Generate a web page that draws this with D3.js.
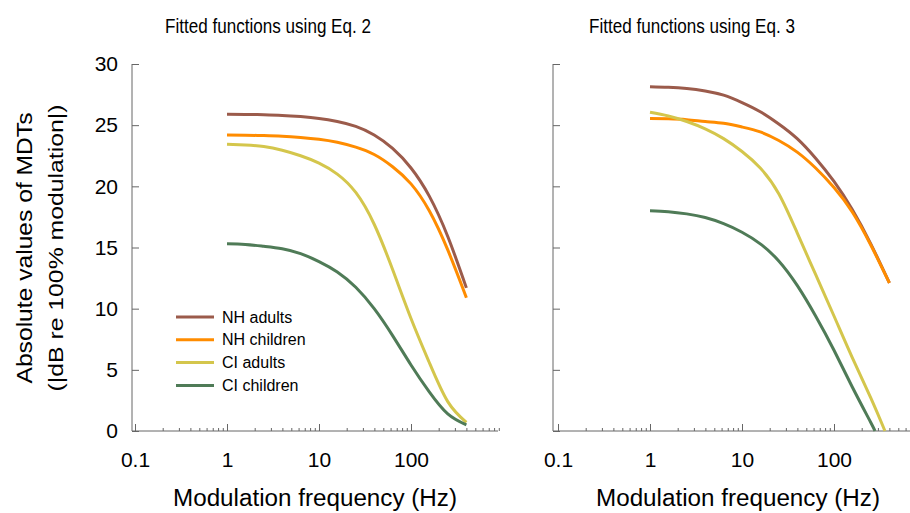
<!DOCTYPE html>
<html><head><meta charset="utf-8">
<script src="https://cdn.jsdelivr.net/npm/d3@7"></script>
<style>
body{margin:0;background:#fff;}
svg{display:block;font-family:"Liberation Sans",Arial,sans-serif;}
</style></head>
<body><svg id="c" width="910" height="513"></svg>
<script>
// ---- data ----
const seriesNames = ["NH adults","NH children","CI adults","CI children"];
const seriesColors = ["#9b5b4b","#ff8c00","#d4c64c","#4f7b57"];
const yTicks = [0,5,10,15,20,25,30];
const xTicks = [0.1,1,10,100];
const xTickLabels = ["0.1","1","10","100"];
const panelTitles = ["Fitted functions using Eq. 2","Fitted functions using Eq. 3"];

// Eq. 2 panel (frequency in Hz)
const freqEq2 = [1,1.58,2.51,3.98,6.31,10,15.8,25.1,39.8,63.1,100,158,251,400];
const nhAdultsEq2   = [25.9,25.88,25.85,25.8,25.7,25.55,25.3,24.9,24.2,23.1,21.5,19.2,15.9,11.7];
const nhChildrenEq2 = [24.2,24.18,24.15,24.1,24.0,23.85,23.6,23.2,22.6,21.6,20.2,18.0,14.8,10.9];
const ciAdultsEq2   = [23.45,23.38,23.25,22.95,22.5,21.9,21.0,19.5,16.9,13.2,9.2,5.6,2.4,0.7];
const ciChildrenEq2 = [15.3,15.25,15.1,14.9,14.5,13.85,13.0,11.75,10.0,7.8,5.4,3.2,1.4,0.5];

// Eq. 3 panel
const freqEq3NH  = [1,1.58,2.51,3.98,6.31,10,15.8,25.1,39.8,63.1,100,158,251,400];
const nhAdultsEq3   = [28.15,28.1,28.0,27.8,27.45,26.85,26.1,25.1,23.9,22.3,20.4,18.1,15.3,12.1];
const nhChildrenEq3 = [25.55,25.52,25.45,25.3,25.15,24.85,24.45,23.75,22.8,21.5,19.9,17.9,15.2,12.1];
const freqEq3CIa = [1,1.58,2.51,3.98,6.31,10,15.8,25.1,39.8,63.1,100,158,251,358];
const ciAdultsEq3   = [26.05,25.75,25.3,24.7,23.9,22.85,21.5,19.4,16.2,12.8,9.4,6.0,2.7,0];
const freqEq3CIc = [1,1.58,2.51,3.98,6.31,10,15.8,25.1,39.8,63.1,100,158,251,279];
const ciChildrenEq3 = [18.0,17.93,17.75,17.45,16.95,16.25,15.3,13.9,11.9,9.4,6.6,3.6,0.7,0];

// ---- drawing ----
const svg = d3.select("#c");
const axisColor = "#666";
const y = d3.scaleLinear().domain([0,30]).range([431,64]);

const panels = [
  {x0:132, xEnd:498, rangeStart:135, labels:true, title:panelTitles[0], titleX:268, xLabelX:315,
   series:[[freqEq2,nhAdultsEq2],[freqEq2,nhChildrenEq2],[freqEq2,ciAdultsEq2],[freqEq2,ciChildrenEq2]]},
  {x0:553, xEnd:910, rangeStart:558, labels:false, title:panelTitles[1], titleX:692, xLabelX:738,
   series:[[freqEq3NH,nhAdultsEq3],[freqEq3NH,nhChildrenEq3],[freqEq3CIa,ciAdultsEq3],[freqEq3CIc,ciChildrenEq3]]}
];

const minorTicks = [];
[0.1,1,10,100].forEach(d=>{for(let k=2;k<=9;k++) minorTicks.push(+(d*k).toPrecision(3));});

panels.forEach((p,pi)=>{
  const x = d3.scaleLog().domain([0.1,1000]).range([p.rangeStart,p.rangeStart+4*92]);
  const g = svg.append("g");

  // title
  g.append("text").attr("x",p.titleX).attr("y",33).attr("text-anchor","middle")
    .attr("font-size",20.5).attr("textLength",206).attr("lengthAdjust","spacingAndGlyphs")
    .attr("fill","#000").text(p.title);

  // y axis
  const ya = d3.axisLeft(y).tickValues(yTicks).tickSizeInner(-7).tickSizeOuter(0).tickPadding(14)
    .tickFormat(p.labels? d3.format("d") : "");
  const yg = g.append("g").attr("transform",`translate(${p.x0},0)`).call(ya);
  yg.select(".domain").remove();
  yg.selectAll(".tick line").attr("stroke",axisColor);
  yg.selectAll("text").attr("font-size",21).attr("fill","#000").attr("font-family","Liberation Sans, Arial, sans-serif");
  g.append("line").attr("x1",p.x0).attr("x2",p.x0).attr("y1",y(30)).attr("y2",y(0)).attr("stroke",axisColor);

  // x axis major
  const xa = d3.axisBottom(x).tickValues(xTicks).tickSizeInner(-7).tickSizeOuter(0).tickPadding(21)
    .tickFormat((d,i)=>xTickLabels[i]);
  const xg = g.append("g").attr("transform",`translate(0,${y(0)})`).call(xa);
  xg.select(".domain").remove();
  xg.selectAll(".tick line").attr("stroke",axisColor);
  xg.selectAll("text").attr("font-size",21).attr("fill","#000").attr("font-family","Liberation Sans, Arial, sans-serif");
  // minor
  const xm = d3.axisBottom(x).tickValues(minorTicks).tickSizeInner(-3).tickSizeOuter(0).tickFormat("");
  const xmg = g.append("g").attr("transform",`translate(0,${y(0)})`).call(xm);
  xmg.select(".domain").remove();
  xmg.selectAll(".tick line").attr("stroke",axisColor);
  g.append("line").attr("x1",p.x0).attr("x2",p.xEnd).attr("y1",y(0)).attr("y2",y(0)).attr("stroke",axisColor);

  // x label
  g.append("text").attr("x",p.xLabelX).attr("y",506).attr("text-anchor","middle")
    .attr("font-size",23).attr("textLength",284).attr("lengthAdjust","spacingAndGlyphs")
    .attr("fill","#000").text("Modulation frequency (Hz)");

  // curves
  const line = d3.line().x(d=>x(d[0])).y(d=>y(d[1])).curve(d3.curveNatural);
  p.series.forEach((s,i)=>{
    const pts = s[0].map((f,j)=>[f,s[1][j]]);
    g.append("path").datum(pts).attr("d",line).attr("fill","none")
      .attr("stroke",seriesColors[i]).attr("stroke-width",3);
  });
});

// y label
const yl = svg.append("g").attr("transform","translate(0,248)");
yl.append("text").attr("transform","translate(32,0) rotate(-90)").attr("text-anchor","middle")
  .attr("font-size",22).attr("textLength",271).attr("lengthAdjust","spacingAndGlyphs")
  .attr("fill","#000").text("Absolute values of MDTs");
yl.append("text").attr("transform","translate(63,0) rotate(-90)").attr("text-anchor","middle")
  .attr("font-size",21).attr("textLength",287).attr("lengthAdjust","spacingAndGlyphs")
  .attr("fill","#000").text("(|dB re 100% modulation|)");

// legend
const lg = svg.append("g");
seriesNames.forEach((n,i)=>{
  const yy = 317 + i*22.8;
  lg.append("line").attr("x1",176).attr("x2",214).attr("y1",yy).attr("y2",yy)
    .attr("stroke",seriesColors[i]).attr("stroke-width",3);
  lg.append("text").attr("x",222).attr("y",yy).attr("dy","0.35em").attr("font-size",16)
    .attr("fill","#000").text(n);
});
</script></body></html>
